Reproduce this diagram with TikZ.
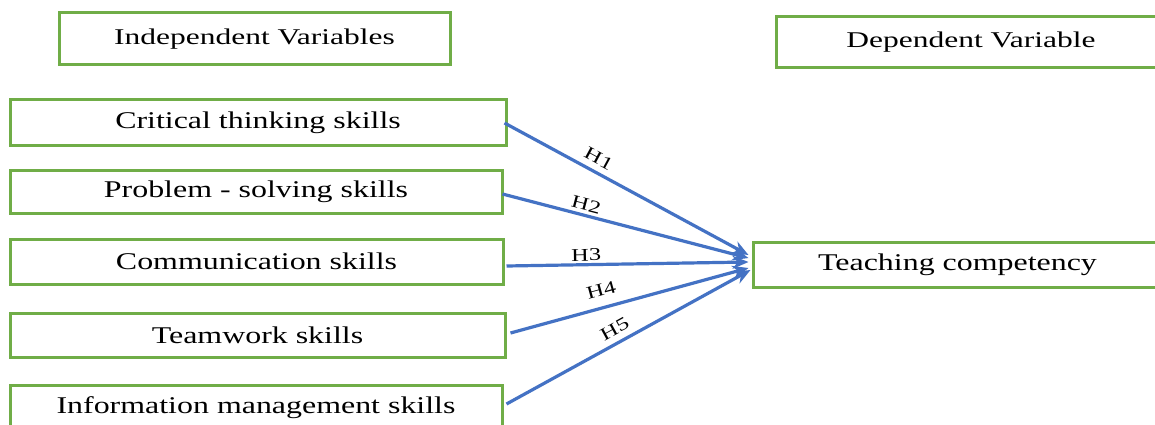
\documentclass[tikz,border=0pt]{standalone}
\usepackage{fontspec}
\setmainfont{Liberation Serif}
\usetikzlibrary{arrows.meta,calc}
\definecolor{boxgreen}{HTML}{70AD47}
\definecolor{arrowblue}{HTML}{4472C4}
\newcommand{\wide}[1]{\scalebox{1.33}[1]{#1}}
\begin{document}
\begin{tikzpicture}[x=1pt,y=-1pt,
  varbox/.style={draw=boxgreen,line width=3pt,fill=white,inner sep=0pt,
    font=\fontsize{24}{26}\selectfont},
  hyp/.style={draw=arrowblue,line width=3.2pt,-{Stealth[length=16pt,width=13pt]}},
  hlabel/.style={font=\fontsize{18}{20}\selectfont,sloped,above,inner sep=2pt}]
\clip (0,0) rectangle (1155,425);
\fill[white] (0,0) rectangle (1155,425);
\node[varbox,minimum width=391pt,minimum height=52pt] (iv) at (254.5,39) {\scalebox{1.4}[1]{\fontsize{22.5}{24}\selectfont Independent Variables}};
\node[varbox,minimum width=390pt,minimum height=51pt] (dv) at (971,42.5) {\scalebox{1.4}[1]{\fontsize{22.5}{24}\selectfont Dependent Variable}};
\node[varbox,minimum width=496pt,minimum height=45pt] (c1) at (258,122.5) {\wide{Critical thinking skills}};
\node[varbox,minimum width=492pt,minimum height=43pt] (c2) at (256,191.5) {\wide{Problem - solving skills}};
\node[varbox,minimum width=493pt,minimum height=45pt] (c3) at (256.5,261.5) {\wide{Communication skills}};
\node[varbox,minimum width=495pt,minimum height=44pt] (c4) at (257.5,335) {\wide{Teamwork skills}};
\node[varbox,minimum width=492pt,minimum height=45pt] (c5) at (256,407.5) {\wide{Information management skills}};
\node[varbox,minimum width=409pt,minimum height=45pt] (tc) at (957.5,264.5) {\wide{Teaching competency}};
\coordinate (t1) at ($(tc.west)+(-3,-9.5)$);
\coordinate (t2) at ($(tc.west)+(-3,-6.5)$);
\coordinate (t3) at ($(tc.west)+(-3,-2.5)$);
\coordinate (t4) at ($(tc.west)+(-3,3.5)$);
\coordinate (t5) at ($(tc.west)+(-1,5.5)$);
\draw[hyp] ($(c1.east)+(-3,0.5)$) -- node[hlabel,pos=0.36,inner sep=6pt] {\scalebox{1.35}[1]{H1}} (t1);
\draw[hyp] ($(c2.east)+(-1,2.5)$) -- node[hlabel,pos=0.33,inner sep=3pt] {\scalebox{1.35}[1]{H2}} (t2);
\draw[hyp] ($(c3.east)+(2,4.5)$) -- node[hlabel,pos=0.33] {\scalebox{1.35}[1]{H3}} (t3);
\draw[hyp] ($(c4.east)+(4,-2)$) -- node[hlabel,pos=0.4,inner sep=10pt] {\scalebox{1.35}[1]{H4}} (t4);
\draw[hyp] ($(c5.east)+(3,-3.5)$) -- node[hlabel,pos=0.47,inner sep=6pt] {\scalebox{1.35}[1]{H5}} (t5);
\end{tikzpicture}
\end{document}
